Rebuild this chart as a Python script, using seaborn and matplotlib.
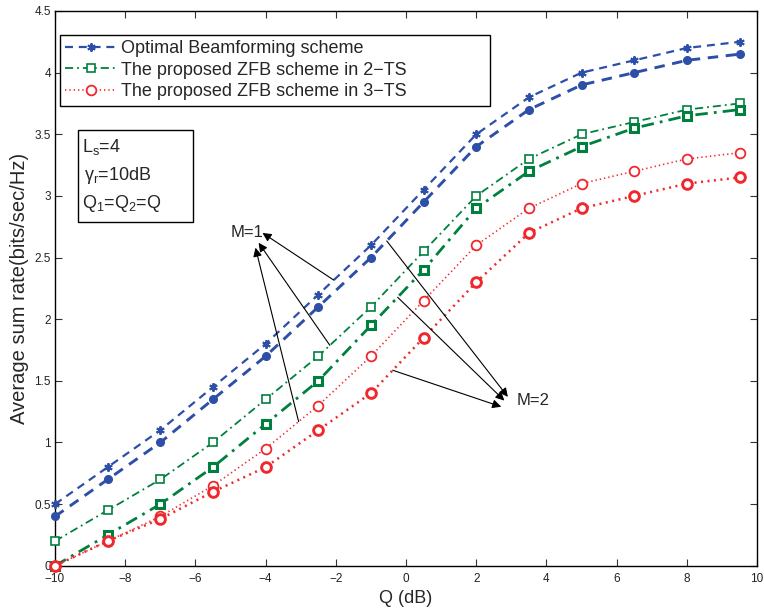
import numpy as np
import pandas as pd
import matplotlib
matplotlib.use("Agg")
import matplotlib.pyplot as plt
from matplotlib.patches import Rectangle
from matplotlib.ticker import FormatStrFormatter
import seaborn as sns

# Transmit power Q (dB)
q_db = [-10, -8.5, -7, -5.5, -4, -2.5, -1, 0.5, 2, 3.5, 5, 6.5, 8, 9.5]

# Average sum rate (bits/sec/Hz), M=1 and M=2
opt_m1 = [0.5, 0.8, 1.1, 1.45, 1.8, 2.2, 2.6, 3.05, 3.5, 3.8, 4.0, 4.1, 4.2, 4.25]
opt_m2 = [0.4, 0.7, 1.0, 1.35, 1.7, 2.1, 2.5, 2.95, 3.4, 3.7, 3.9, 4.0, 4.1, 4.15]
zfb2_m1 = [0.2, 0.45, 0.7, 1.0, 1.35, 1.7, 2.1, 2.55, 3.0, 3.3, 3.5, 3.6, 3.7, 3.75]
zfb2_m2 = [0.0, 0.25, 0.5, 0.8, 1.15, 1.5, 1.95, 2.4, 2.9, 3.2, 3.4, 3.55, 3.65, 3.7]
zfb3_m1 = [0.0, 0.2, 0.4, 0.65, 0.95, 1.3, 1.7, 2.15, 2.6, 2.9, 3.1, 3.2, 3.3, 3.35]
zfb3_m2 = [0.0, 0.2, 0.38, 0.6, 0.8, 1.1, 1.4, 1.85, 2.3, 2.7, 2.9, 3.0, 3.1, 3.15]

legend_labels = ["Optimal Beamforming scheme",
                 "The proposed ZFB scheme in 2\u2212TS",
                 "The proposed ZFB scheme in 3\u2212TS"]

x_ticks = [-10, -8, -6, -4, -2, 0, 2, 4, 6, 8, 10]
y_ticks = [0, 0.5, 1, 1.5, 2, 2.5, 3, 3.5, 4, 4.5]

BLUE = "#2e4fa8"
GREEN = "#00803e"
RED = "#f0282d"

sns.set_theme(style="ticks", rc={"xtick.direction": "in", "ytick.direction": "in"})
plt.rcParams["font.family"] = ["Liberation Sans", "DejaVu Sans"]
plt.rcParams["mathtext.fontset"] = "custom"
plt.rcParams["mathtext.rm"] = "Liberation Sans"
plt.rcParams["mathtext.it"] = "Liberation Sans:italic"

fig = plt.figure(figsize=(7.64, 6.11), dpi=100)
ax = fig.add_axes([0.072, 0.074, 0.919, 0.908])

df = pd.DataFrame({"Q": q_db,
                   "opt_m1": opt_m1, "opt_m2": opt_m2,
                   "zfb2_m1": zfb2_m1, "zfb2_m2": zfb2_m2,
                   "zfb3_m1": zfb3_m1, "zfb3_m2": zfb3_m2})

dash = (0, (3.6, 2.6))
dashdot = (0, (4.5, 2.2, 1, 2.2))
dot = (0, (0.8, 1.8))
asterisk = (6, 2, 0)

series = [
    # column, color, linestyle, lw, marker, ms, face, edge width
    ("opt_m1", BLUE, dash, 1.6, asterisk, 6, BLUE, 1.4),
    ("opt_m2", BLUE, dash, 2.1, "o", 5.5, BLUE, 1.0),
    ("zfb2_m1", GREEN, dashdot, 1.3, "s", 5.5, "white", 1.2),
    ("zfb2_m2", GREEN, dashdot, 2.0, "s", 5.5, "white", 2.2),
    ("zfb3_m1", RED, dot, 1.2, "o", 7, "white", 1.3),
    ("zfb3_m2", RED, dot, 1.8, "o", 7, "white", 2.1),
]

handles = {}
for col, color, ls, lw, mk, ms, face, mew in series:
    sns.lineplot(data=df, x="Q", y=col, ax=ax, color=color, linestyle=ls,
                 linewidth=lw, marker=mk, markersize=ms,
                 markerfacecolor=face, markeredgecolor=color,
                 markeredgewidth=mew, legend=False, clip_on=False, zorder=3)
    handles[col] = ax.lines[-1]

ax.set_xlim(-10, 10)
ax.set_ylim(0, 4.5)
ax.set_xticks(x_ticks)
ax.set_yticks(y_ticks)
ax.yaxis.set_major_formatter(FormatStrFormatter("%g"))
ax.tick_params(top=True, right=True, length=5, width=0.8, labelsize=8.5,
               color="#333333", labelcolor="#222222")
ax.tick_params(axis="x", pad=5)
ax.tick_params(axis="y", pad=3)
for sp in ax.spines.values():
    sp.set_color("black")
    sp.set_linewidth(1.0)

ax.set_xlabel("Q (dB)", fontsize=13, labelpad=4)
ax.set_ylabel("Average sum rate(bits/sec/Hz)", fontsize=14.5, labelpad=4)

leg = ax.legend([handles["opt_m1"], handles["zfb2_m1"], handles["zfb3_m1"]],
                legend_labels, loc="upper left",
                bbox_to_anchor=(0.007, 0.5, 0.6125, 0.457), mode="expand",
                borderaxespad=0, fontsize=13, frameon=True, fancybox=False,
                edgecolor="black", framealpha=1, handlelength=2.8,
                handletextpad=0.3, labelspacing=0.25, borderpad=0.3)
leg.get_frame().set_linewidth(1.0)

# parameter box
ax.add_patch(Rectangle((0.033, 0.620), 0.164, 0.166, transform=ax.transAxes,
                       fill=False, edgecolor="black", linewidth=1.0, zorder=4))
ax.text(0.038, 0.745, r"$\mathregular{L_s}$=4", transform=ax.transAxes,
        fontsize=13, va="baseline", ha="left")
ax.text(0.041, 0.695, r"$\mathregular{\gamma_r}$=10dB", transform=ax.transAxes,
        fontsize=13, va="baseline", ha="left")
ax.text(0.038, 0.645, r"$\mathregular{Q_1}$=$\mathregular{Q_2}$=Q",
        transform=ax.transAxes, fontsize=13, va="baseline", ha="left")

# arrows pointing from the curves to the M labels
arrow_kw = dict(arrowstyle="-|>", color="black", lw=0.8, mutation_scale=13,
                shrinkA=0, shrinkB=0)

m1_tails = [(-2.06, opt_m1), (-2.17, zfb2_m1), (-3.06, zfb3_m1)]
m1_heads = [(-4.09, 2.70), (-4.2, 2.62), (-4.29, 2.58)]
for (xt, ys), head in zip(m1_tails, m1_heads):
    yt = np.interp(xt, q_db, ys)
    ax.annotate("", xy=head, xytext=(xt, yt), arrowprops=arrow_kw, zorder=5)
ax.text(-4.05, 2.70, "M=1", fontsize=12, ha="right", va="center")

m2_tails = [(-0.55, opt_m2), (-0.24, zfb2_m2), (-0.38, zfb3_m2)]
m2_heads = [(2.9, 1.37), (2.8, 1.34), (2.71, 1.29)]
for (xt, ys), head in zip(m2_tails, m2_heads):
    yt = np.interp(xt, q_db, ys)
    ax.annotate("", xy=head, xytext=(xt, yt), arrowprops=arrow_kw, zorder=5)
ax.text(3.14, 1.34, "M=2", fontsize=12, ha="left", va="center")

fig.savefig("out.png", dpi=100)
